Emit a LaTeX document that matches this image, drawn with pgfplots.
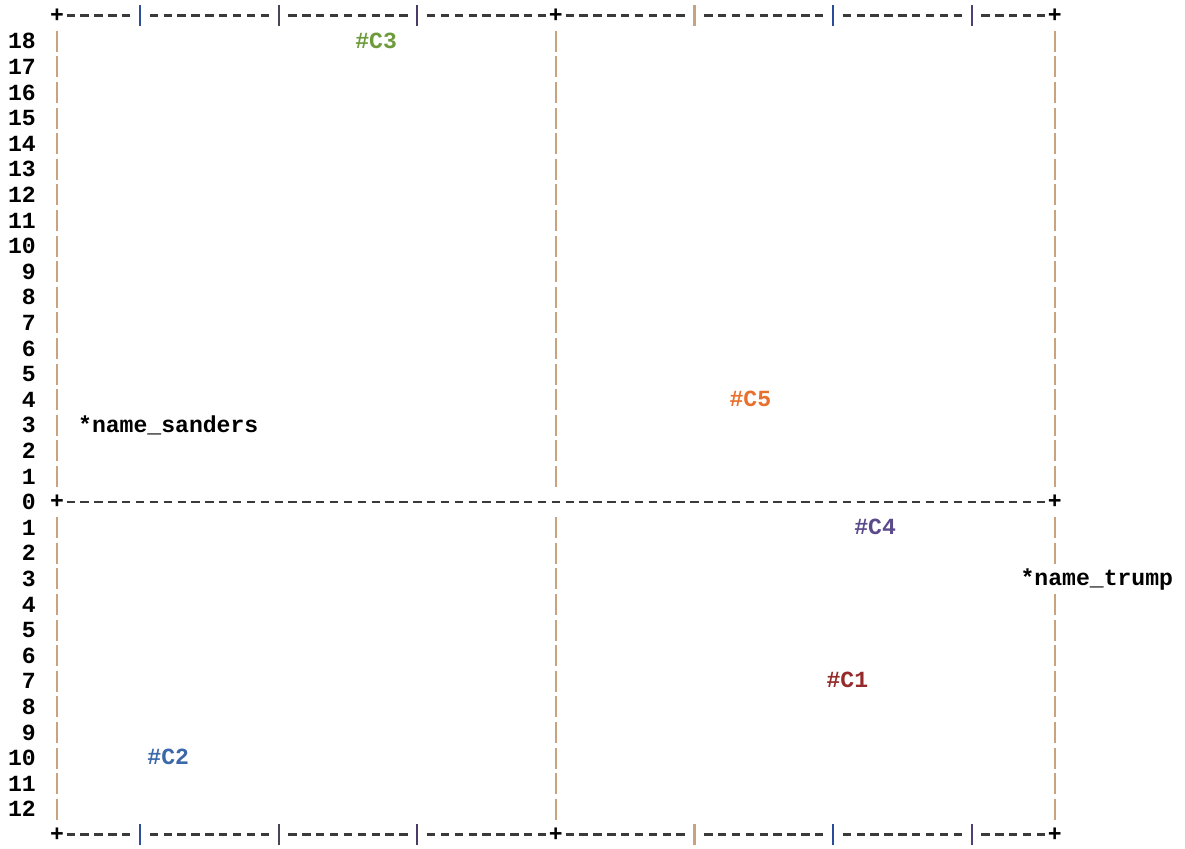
\documentclass[border=0pt]{standalone}
\usepackage{fontspec}
\setmainfont{Liberation Mono}
\setmonofont{Liberation Mono}
\usepackage{pgfplots}
\pgfplotsset{compat=1.18}

\definecolor{cthree}{HTML}{6E9B3A}
\definecolor{cfive}{HTML}{E8702C}
\definecolor{cfour}{HTML}{5B4A8A}
\definecolor{cone}{HTML}{962A2A}
\definecolor{ctwo}{HTML}{3A68A8}
\definecolor{frametan}{HTML}{C9A27E}
\definecolor{dashgray}{HTML}{3A3A3A}
\definecolor{tkA}{HTML}{2E4F9A}
\definecolor{tkB}{HTML}{4A4458}
\definecolor{tkC}{HTML}{4A3C66}
\definecolor{tkD}{HTML}{C9A27E}
\definecolor{tkE}{HTML}{2A4A9A}
\definecolor{tkF}{HTML}{4E3F78}

\newcommand{\cw}{\fontsize{11.55pt}{12.8pt}\selectfont\ttfamily\bfseries}
% one run of "-" characters: from, to, row
\newcommand{\dashrun}[3]{\draw[dashgray, line width=1.3pt, dash pattern=on 4.2pt off 2.73pt] (axis cs:#1,#3) -- (axis cs:#2,#3);}
\newcommand{\bordrow}[1]{%
  \dashrun{0.697}{5.303}{#1}\dashrun{6.697}{15.303}{#1}\dashrun{16.697}{25.303}{#1}\dashrun{26.697}{35.303}{#1}%
  \dashrun{36.697}{45.303}{#1}\dashrun{46.697}{55.303}{#1}\dashrun{56.697}{65.303}{#1}\dashrun{66.697}{71.303}{#1}%
  \draw[tkA, line width=1.1pt] (axis cs:6,#1-0.41) -- (axis cs:6,#1+0.41);
  \draw[tkB, line width=1.1pt] (axis cs:16,#1-0.41) -- (axis cs:16,#1+0.41);
  \draw[tkC, line width=1.1pt] (axis cs:26,#1-0.41) -- (axis cs:26,#1+0.41);
  \draw[tkD, line width=1.1pt] (axis cs:46,#1-0.41) -- (axis cs:46,#1+0.41);
  \draw[tkE, line width=1.1pt] (axis cs:56,#1-0.41) -- (axis cs:56,#1+0.41);
  \draw[tkF, line width=1.1pt] (axis cs:66,#1-0.41) -- (axis cs:66,#1+0.41);
  \node[font=\cw, inner sep=0pt] at (axis cs:0,#1) {+};
  \node[font=\cw, inner sep=0pt] at (axis cs:36,#1) {+};
  \node[font=\cw, inner sep=0pt] at (axis cs:72,#1) {+};}

\begin{document}
\begin{tikzpicture}
\begin{axis}[
    x=6.93pt, y=12.8pt,
    xmin=0, xmax=72, ymin=-13, ymax=19,
    clip=false,
    axis line style={draw=none},
    xtick=\empty,
    ytick={-12,-11,-10,-9,-8,-7,-6,-5,-4,-3,-2,-1,0,1,2,3,4,5,6,7,8,9,10,11,12,13,14,15,16,17,18},
    yticklabels={12,11,10,9,8,7,6,5,4,3,2,1,0,1,2,3,4,5,6,7,8,9,10,11,12,13,14,15,16,17,18},
    major tick length=0pt,
    ytick style={draw=none},
    yticklabel shift=10.4pt,
    yticklabel style={font=\cw, inner sep=0pt, anchor=east},
    /pgf/number format/assume math mode=true,
    every node near coord/.append style={font=\cw, inner sep=0pt, anchor=base west, xshift=-3.465pt, yshift=-3.4pt},
    point meta=explicit symbolic,
]
% page size
\path (axis cs:-4.11,19.61) rectangle (axis cs:81.39,-13.52);

% frame
\bordrow{19}
\bordrow{-13}
\dashrun{0.697}{71.303}{0}
\node[font=\cw, inner sep=0pt] at (axis cs:0,0) {+};
\node[font=\cw, inner sep=0pt] at (axis cs:72,0) {+};
\begin{scope}[frametan, line width=1.1pt, dash pattern=on 10.5pt off 2.3pt]
\draw (axis cs:0,18.41) -- (axis cs:0,0.59);
\draw (axis cs:0,-0.59) -- (axis cs:0,-12.41);
\draw (axis cs:36,18.41) -- (axis cs:36,0.59);
\draw (axis cs:36,-0.59) -- (axis cs:36,-12.41);
\draw (axis cs:72,18.41) -- (axis cs:72,0.59);
\draw (axis cs:72,-0.59) -- (axis cs:72,-2.41);
\draw (axis cs:72,-3.59) -- (axis cs:72,-12.41);
\end{scope}

% clusters
\addplot[only marks, mark=none, nodes near coords={\#\pgfplotspointmeta}, every node near coord/.append style={text=cthree}]
    coordinates {(22,18) [C3]};
\addplot[only marks, mark=none, nodes near coords={\#\pgfplotspointmeta}, every node near coord/.append style={text=cfive}]
    coordinates {(49,4) [C5]};
\addplot[only marks, mark=none, nodes near coords={\#\pgfplotspointmeta}, every node near coord/.append style={text=cfour}]
    coordinates {(58,-1) [C4]};
\addplot[only marks, mark=none, nodes near coords={\#\pgfplotspointmeta}, every node near coord/.append style={text=cone}]
    coordinates {(56,-7) [C1]};
\addplot[only marks, mark=none, nodes near coords={\#\pgfplotspointmeta}, every node near coord/.append style={text=ctwo}]
    coordinates {(7,-10) [C2]};
% names
\addplot[only marks, mark=none, nodes near coords={*\pgfplotspointmeta}, every node near coord/.append style={text=black}]
    coordinates {(2,3) [name\_sanders] (70,-3) [name\_trump]};
\end{axis}
\end{tikzpicture}
\end{document}
